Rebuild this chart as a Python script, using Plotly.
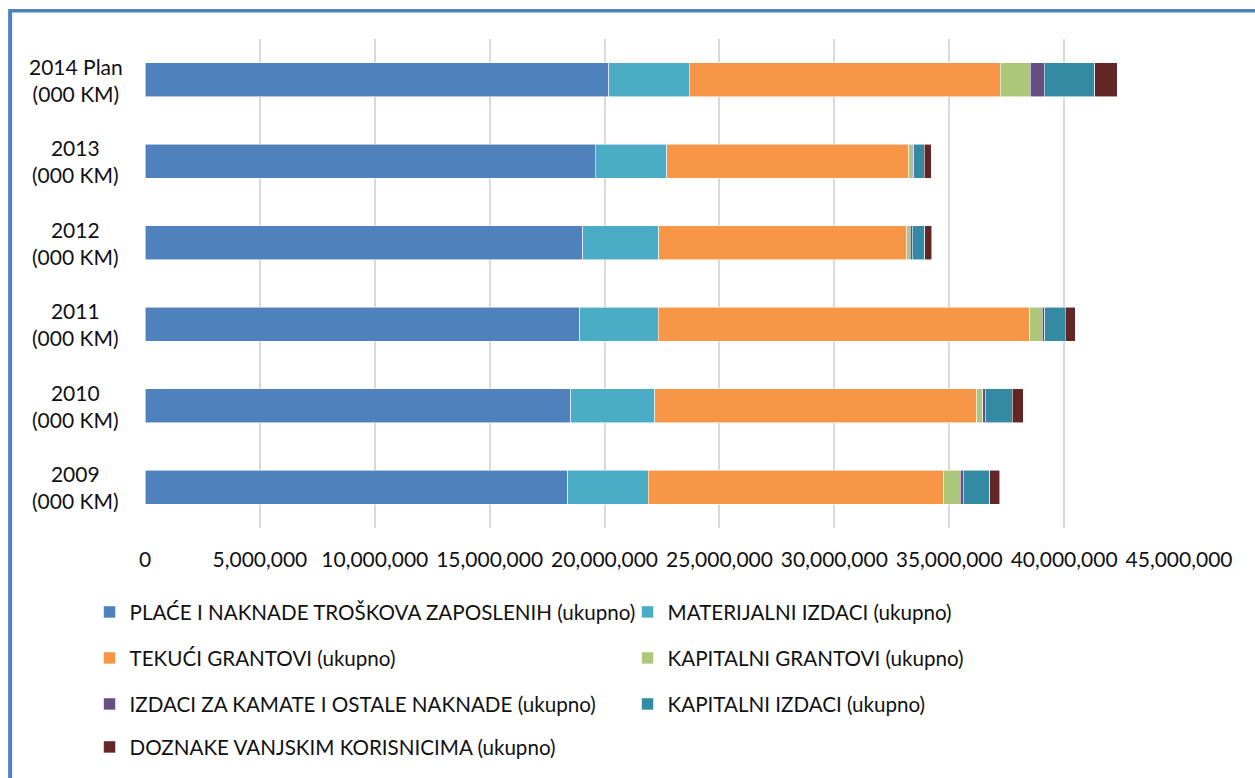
import plotly.graph_objects as go

# ---------------- data ----------------
categories = ["2009<br>(000 KM)", "2010<br>(000 KM)", "2011<br>(000 KM)",
              "2012<br>(000 KM)", "2013<br>(000 KM)", "2014 Plan<br>(000 KM)"]

series_names = [
    "PLAĆE I NAKNADE TROŠKOVA ZAPOSLENIH (ukupno)",
    "MATERIJALNI IZDACI (ukupno)",
    "TEKUĆI GRANTOVI (ukupno)",
    "KAPITALNI GRANTOVI (ukupno)",
    "IZDACI ZA KAMATE I OSTALE NAKNADE (ukupno)",
    "KAPITALNI IZDACI (ukupno)",
    "DOZNAKE VANJSKIM KORISNICIMA (ukupno)",
]

place = [18390000, 18530000, 18910000, 19050000, 19600000, 20180000]
materijalni = [3520000, 3650000, 3420000, 3300000, 3100000, 3510000]
tekuci = [12850000, 14010000, 16180000, 10800000, 10540000, 13520000]
kap_grantovi = [720000, 260000, 540000, 150000, 140000, 1310000]
kamate = [120000, 120000, 110000, 80000, 80000, 620000]
kap_izdaci = [1160000, 1170000, 900000, 550000, 460000, 2200000]
doznake = [430000, 480000, 430000, 320000, 290000, 970000]

series_values = [place, materijalni, tekuci, kap_grantovi, kamate, kap_izdaci, doznake]

colors = ["#4F81BD", "#4BACC6", "#F79646", "#ADC87A", "#654F83", "#348AA3", "#632626"]

x_tick_vals = [0, 5e6, 10e6, 15e6, 20e6, 25e6, 30e6, 35e6, 40e6, 45e6]
x_tick_text = ["0", "5,000,000", "10,000,000", "15,000,000", "20,000,000",
               "25,000,000", "30,000,000", "35,000,000", "40,000,000", "45,000,000"]

# ---------------- layout constants ----------------
W, H = 1255, 778
ML, MR, MT, MB = 144.5, 75.5, 39, 249
PW = W - ML - MR
PH = H - MT - MB
FONT = "Lato"
TXT = "#111111"


def px2x(px):
    return (px - ML) / PW


def py2y(py):
    return (H - MB - py) / PH


legend_rows = [[0, 1], [2, 3], [4, 5], [6]]
legend_row_px = [612, 658, 704, 747]

fig = go.Figure()
for i, (name, vals) in enumerate(zip(series_names, series_values)):
    row = [r for r, items in enumerate(legend_rows) if i in items][0]
    lg = "legend" if row == 0 else f"legend{row + 1}"
    fig.add_trace(go.Bar(
        y=categories, x=vals, name=name, orientation="h",
        marker=dict(color=colors[i], line=dict(color="rgba(255,255,255,0.7)", width=0.8)),
        legend=lg,
    ))

legend_common = dict(
    orientation="h", xanchor="left", yanchor="middle",
    x=px2x(89), entrywidth=493, entrywidthmode="pixels",
    font=dict(family=FONT, size=20.6, color=TXT),
    bgcolor="rgba(0,0,0,0)", borderwidth=0, traceorder="normal",
)

layout_legends = {}
for r, py in enumerate(legend_row_px):
    key = "legend" if r == 0 else f"legend{r + 1}"
    layout_legends[key] = dict(legend_common, y=py2y(py))

annotations = []
for c in categories:
    annotations.append(dict(
        x=px2x(75), xref="paper", y=c, yref="y", text=c, showarrow=False,
        xanchor="center", yanchor="middle", align="center",
        font=dict(family=FONT, size=21, color=TXT),
    ))

shapes = [
    dict(type="line", xref="paper", yref="paper",
         x0=px2x(9.5), x1=px2x(1300), y0=py2y(10.7), y1=py2y(10.7),
         line=dict(color="#5082C0", width=3.5)),
    dict(type="line", xref="paper", yref="paper",
         x0=px2x(9.5), x1=px2x(9.5), y0=py2y(9), y1=py2y(820),
         line=dict(color="#5082C0", width=4)),
]

fig.update_layout(
    width=W, height=H,
    margin=dict(l=ML, r=MR, t=MT, b=MB, pad=0),
    barmode="stack", bargap=0.583,
    plot_bgcolor="white", paper_bgcolor="white",
    font=dict(family=FONT, size=21, color=TXT),
    xaxis=dict(
        range=[0, 45e6], tickvals=x_tick_vals, ticktext=x_tick_text,
        showgrid=True, gridcolor="#D9D9D9", gridwidth=2,
        zeroline=False, showline=False, ticks="",
        ticklabelstandoff=17,
        tickfont=dict(family=FONT, size=21, color=TXT),
    ),
    yaxis=dict(showticklabels=False, showgrid=False, zeroline=False,
               showline=False, ticks=""),
    annotations=annotations,
    shapes=shapes,
    showlegend=True,
    **layout_legends,
)

fig.write_html("out.html", config={"displayModeBar": False},
               post_script="document.body.style.margin='0';")
